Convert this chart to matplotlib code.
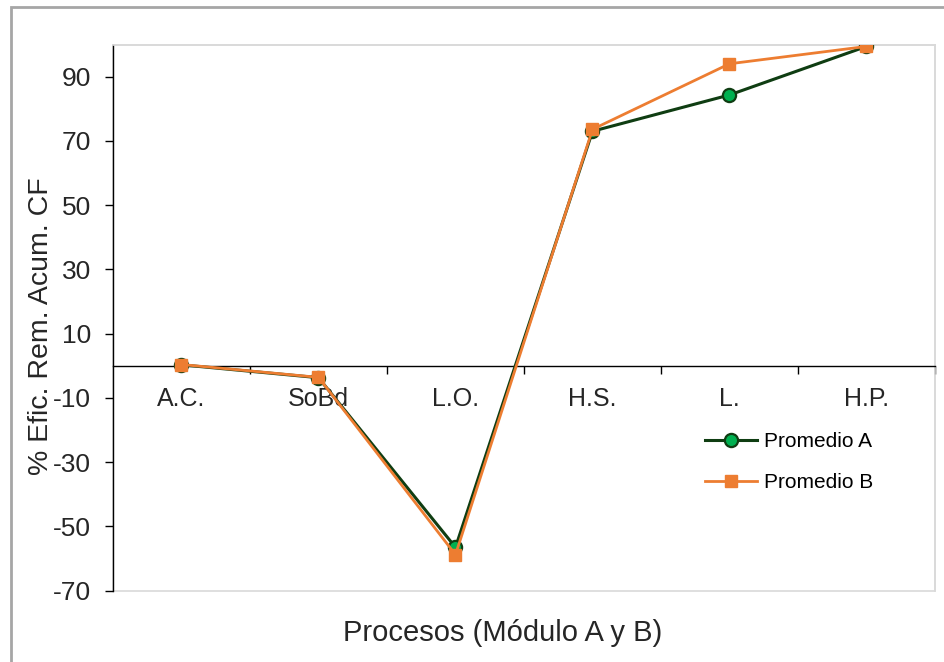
import matplotlib
matplotlib.use("Agg")
import matplotlib.pyplot as plt
from matplotlib.patches import Rectangle

# data
procesos = ["A.C.", "SoBd", "L.O.", "H.S.", "L.", "H.P."]
promedio_a = [0.3, -3.7, -56.5, 73.0, 84.3, 99.4]
promedio_b = [0.4, -3.6, -58.8, 73.6, 94.0, 99.4]
y_ticks = [-70, -50, -30, -10, 10, 30, 50, 70, 90]

GREEN_LINE = "#0f3d12"
GREEN_FILL = "#00b050"
ORANGE = "#ed7d31"
GRID_GRAY = "#d9d9d9"
TEXT = "#262626"

plt.rcParams["font.family"] = ["Liberation Sans", "DejaVu Sans"]
plt.rcParams["axes.unicode_minus"] = False

fig = plt.figure(figsize=(9.45, 6.62), dpi=100)
ax = fig.add_axes([113 / 945, 1 - 590.7 / 662, 822 / 945, 546.2 / 662])

x = list(range(len(procesos)))
ax.plot(x, promedio_a, color=GREEN_LINE, linewidth=2.2, marker="o", markersize=9.5,
        markerfacecolor=GREEN_FILL, markeredgecolor=GREEN_LINE, markeredgewidth=1.6,
        label="Promedio A", zorder=3)
ax.plot(x, promedio_b, color=ORANGE, linewidth=2.0, marker="s", markersize=8,
        markerfacecolor=ORANGE, markeredgecolor=ORANGE,
        label="Promedio B", zorder=4)

ax.set_xlim(-0.5, len(procesos) - 0.5)
ax.set_ylim(-70, 100)
ax.set_yticks(y_ticks)
ax.tick_params(axis="y", direction="out", length=6, width=1, labelsize=19,
               labelcolor=TEXT, pad=10)

# category axis crosses at y = 0
ax.spines["bottom"].set_position(("data", 0))
ax.spines["bottom"].set_color("black")
ax.spines["bottom"].set_linewidth(1.0)
ax.spines["left"].set_color("black")
ax.spines["left"].set_linewidth(1.0)
for side in ("top", "right"):
    ax.spines[side].set_color(GRID_GRAY)
    ax.spines[side].set_linewidth(1.2)
ax.add_patch(Rectangle((0, 0), 1, 1, transform=ax.transAxes, fill=False,
                       edgecolor=GRID_GRAY, linewidth=1.2, zorder=0, clip_on=False))

ax.set_xticks(x)
ax.set_xticklabels(procesos)
ax.set_xticks([i + 0.5 for i in x], minor=True)
ax.tick_params(axis="x", which="major", length=0, pad=15, labelsize=18,
               labelcolor=TEXT)
ax.tick_params(axis="x", which="minor", direction="out", length=6, width=1)

ax.legend(loc="upper left",
          bbox_to_anchor=((697 - 113) / 822, 1 - (424 - 44.5) / 546.2),
          frameon=False, fontsize=15, handlelength=2.5, handletextpad=0.3,
          labelspacing=1.05, borderaxespad=0)

fig.text(41 / 945, 1 - 326 / 662, "% Efic. Rem. Acum. CF", rotation=90,
         ha="center", va="center", fontsize=20.5, color=TEXT)
fig.text(503 / 945, 1 - 633 / 662, "Procesos (Módulo A y B)",
         ha="center", va="center", fontsize=21, color=TEXT)

# outer chart border (left and top visible)
fig.patches.append(Rectangle((10.5 / 945, -0.05), 1.2, 1.05 - 6.5 / 662,
                             transform=fig.transFigure, fill=False,
                             edgecolor="#a6a6a6", linewidth=2, zorder=0))

fig.savefig("out.png", dpi=100)
